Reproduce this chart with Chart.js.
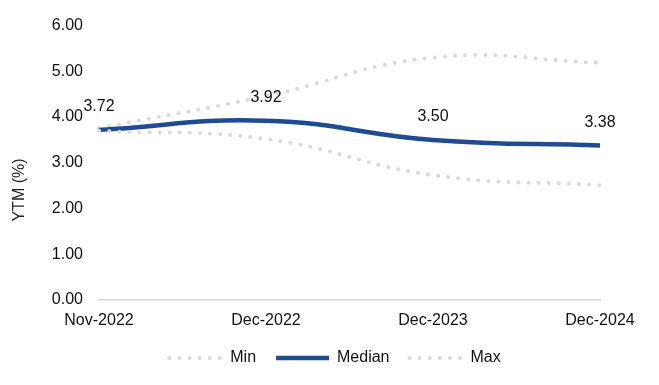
<!DOCTYPE html>
<html>
<head>
<meta charset="utf-8">
<script src="https://cdn.jsdelivr.net/npm/chart.js@4"></script>
<style>
  html, body { margin: 0; padding: 0; background: #fff; }
  #wrap { width: 659px; height: 385px; }
</style>
</head>
<body>
<div id="wrap"><canvas id="chart"></canvas></div>
<script>
const LABELS = ["Nov-2022", "Dec-2022", "Dec-2023", "Dec-2024"];
const MIN_VALUES = [3.70, 3.52, 2.73, 2.51];
const MEDIAN_VALUES = [3.72, 3.92, 3.50, 3.38];
const MAX_VALUES = [3.76, 4.46, 5.30, 5.19];
const Y_TICKS = [0, 1, 2, 3, 4, 5, 6];

const FONT = "'Liberation Sans', Arial, sans-serif";
const BLUE = "#1f4b93";
const GRAY = "#dadada";

// value labels above the median line + rotated axis title,
// and nudge the legend so it sits where the original has it
const extras = {
  id: "extras",
  afterLayout(chart) {
    chart.legend.left += 35;
    chart.legend.right += 35;
  },
  afterDatasetsDraw(chart) {
    const ctx = chart.ctx;
    const meta = chart.getDatasetMeta(1);
    ctx.save();
    ctx.font = "16px " + FONT;
    ctx.fillStyle = "#111";
    ctx.textAlign = "center";
    ctx.textBaseline = "middle";
    meta.data.forEach((pt, i) => {
      ctx.fillText(MEDIAN_VALUES[i].toFixed(2), pt.x, pt.y - 23);
    });
    ctx.translate(20, 190);
    ctx.rotate(-Math.PI / 2);
    ctx.font = "16px " + FONT;
    ctx.fillStyle = "#222";
    ctx.fillText("YTM (%)", 0, 0);
    ctx.restore();
  },
};

const dotted = (label, data) => ({
  label,
  data,
  borderColor: GRAY,
  backgroundColor: GRAY,
  borderWidth: 4,
  borderDash: [0.1, 10],
  borderCapStyle: "round",
  pointRadius: 0,
  tension: 0.45,
  fill: false,
});

new Chart(document.getElementById("chart"), {
  type: "line",
  data: {
    labels: LABELS,
    datasets: [
      dotted("Min", MIN_VALUES),
      {
        label: "Median",
        data: MEDIAN_VALUES,
        borderColor: BLUE,
        backgroundColor: BLUE,
        borderWidth: 4.5,
        borderCapStyle: "butt",
        pointRadius: 0,
        tension: 0.45,
        fill: false,
      },
      dotted("Max", MAX_VALUES),
    ],
  },
  options: {
    responsive: true,
    maintainAspectRatio: false,
    animation: false,
    layout: { padding: { top: 12.5, right: 59, bottom: 9, left: 0 } },
    plugins: {
      tooltip: { enabled: false },
      legend: {
        position: "bottom",
        labels: {
          usePointStyle: true,
          pointStyle: "line",
          pointStyleWidth: 53,
          padding: 20,
          color: "#111",
          font: { family: FONT, size: 16 },
          generateLabels(chart) {
            const items = Chart.defaults.plugins.legend.labels.generateLabels(chart);
            items.forEach((it) => {
              const ds = chart.data.datasets[it.datasetIndex];
              it.lineDash = ds.borderDash || [];
              it.lineCap = ds.borderCapStyle;
              it.lineWidth = ds.borderWidth;
            });
            return items;
          },
        },
      },
    },
    scales: {
      x: {
        offset: false,
        afterFit(scale) {
          scale.height = 30;
        },
        grid: { display: false, drawTicks: false },
        border: { display: true, color: "#d9d9d9", width: 1.5 },
        ticks: {
          padding: 11,
          color: "#111",
          maxRotation: 0,
          font: { family: FONT, size: 16 },
        },
      },
      y: {
        min: 0,
        max: 6,
        afterFit(scale) {
          scale.width = 99;
        },
        afterBuildTicks(scale) {
          scale.ticks = Y_TICKS.map((v) => ({ value: v }));
        },
        grid: { display: false, drawTicks: false },
        border: { display: false },
        ticks: {
          padding: 16,
          color: "#111",
          font: { family: FONT, size: 16 },
          callback: (v) => Number(v).toFixed(2),
        },
      },
    },
  },
  plugins: [extras],
});
</script>
</body>
</html>
